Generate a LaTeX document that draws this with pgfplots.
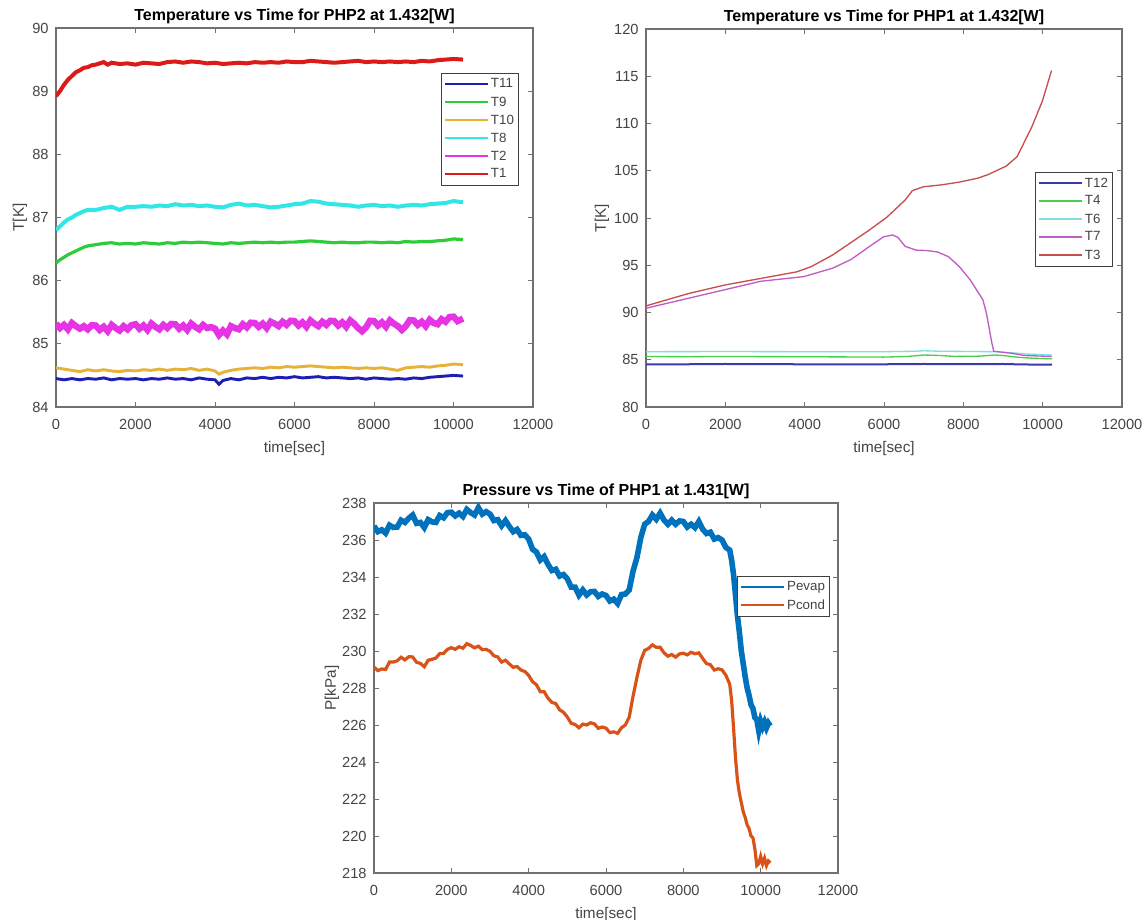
\documentclass[border=0pt]{standalone}
\usepackage{fontspec}
\setmainfont{Liberation Sans}
\usepackage{pgfplots}
\pgfplotsset{compat=1.18}
\definecolor{axgray}{HTML}{707070}
\definecolor{txtgray}{HTML}{444444}
\definecolor{cT11}{HTML}{1E1EB4}
\definecolor{cT9}{HTML}{2ECC3A}
\definecolor{cT10}{HTML}{E6B23A}
\definecolor{cT8}{HTML}{33E6E6}
\definecolor{cT2}{HTML}{E633E6}
\definecolor{cT1}{HTML}{DC1A1A}
\definecolor{cT12}{HTML}{3A3AA8}
\definecolor{cT4}{HTML}{4CCC4C}
\definecolor{cT6}{HTML}{80DEDE}
\definecolor{cT7}{HTML}{C05CC8}
\definecolor{cT3}{HTML}{C84E4E}
\definecolor{cPe}{HTML}{0072BD}
\definecolor{cPc}{HTML}{D95319}
\pgfplotsset{
  mstyle/.style={
    scale only axis,
    xmin=0, xmax=12000,
    xtick={0,2000,4000,6000,8000,10000,12000},
    tick align=inside,
    xtick pos=both, ytick pos=both,
    major tick length=3.5pt,
    every tick/.style={draw=axgray, line width=0.6pt},
    axis line style={draw=axgray, line width=0.9pt},
    ticklabel style={font=\fontsize{11}{13}\selectfont, text=txtgray},
    xticklabel style={yshift=-6pt},
    yticklabel style={xshift=-2pt},
    /pgf/number format/assume math mode=true,
    /pgf/number format/set thousands separator={},
    scaled x ticks=false, scaled y ticks=false,
    title style={font=\bfseries\fontsize{12}{14}\selectfont, at={(0.5,1)}, anchor=center, yshift=3pt},
    xlabel={time[sec]},
    xlabel style={font=\fontsize{11.5}{13}\selectfont, text=txtgray, anchor=center},
    ylabel style={font=\fontsize{11.5}{13}\selectfont, text=txtgray, anchor=center},
    legend style={draw=black!75, line width=0.6pt, fill=white,
      font=\fontsize{10}{11}\selectfont, text=txtgray,
      inner xsep=2pt, inner ysep=1.5pt, row sep=0pt,
      nodes={inner sep=1.5pt, minimum height=13.5pt}},
    legend image code/.code={\draw[#1, line width=1.5pt] (0pt,0pt) -- (32pt,0pt);},
    legend cell align=left,
  }
}
\begin{document}
\begin{tikzpicture}
\useasboundingbox (0,0) rectangle (859.5pt,690pt);
% ---------------- top left ----------------
\begin{axis}[mstyle, at={(42pt,384.75pt)}, anchor=south west,
  width=357.75pt, height=284.25pt,
  ymin=84, ymax=90, ytick={84,85,86,87,88,89,90},
  title={Temperature vs Time for PHP2 at 1.432[W]},
  ylabel={T[K]},
  xlabel style={at={(0.5,-0.11)}},
  ylabel style={at={(-0.0755,0.5)}},
  legend style={at={(1,1)}, anchor=north east, xshift=-10.5pt, yshift=-33.75pt}]
\addplot[cT11, line width=2.2pt] coordinates {
(0,84.45)(200,84.43)(400,84.45)(600,84.43)(800,84.45)(1000,84.44)(1200,84.46)(1400,84.43)(1600,84.45)(1800,84.44)
(2000,84.45)(2200,84.43)(2400,84.45)(2600,84.44)(2800,84.46)(3000,84.44)(3200,84.45)(3400,84.43)(3600,84.46)(3800,84.44)
(4000,84.43)(4100,84.36)(4200,84.42)(4400,84.45)(4600,84.43)(4800,84.46)(5000,84.45)(5200,84.47)(5400,84.45)(5600,84.47)
(5800,84.46)(6000,84.48)(6200,84.46)(6400,84.47)(6600,84.48)(6800,84.46)(7000,84.47)(7200,84.46)(7400,84.45)(7600,84.46)
(7800,84.44)(8000,84.46)(8200,84.45)(8400,84.44)(8600,84.45)(8800,84.44)(9000,84.46)(9200,84.45)(9400,84.47)(9600,84.48)
(9800,84.49)(10000,84.5)(10240,84.49)};
\addlegendentry{T11}
\addplot[cT9, line width=2.4pt] coordinates {
(0,86.28)(100,86.33)(200,86.37)(300,86.41)(400,86.44)(500,86.47)(600,86.5)(700,86.53)(800,86.55)(1000,86.57)
(1200,86.59)(1400,86.6)(1600,86.58)(1800,86.59)(2000,86.58)(2200,86.6)(2400,86.59)(2600,86.58)(2800,86.6)(3000,86.59)
(3200,86.61)(3400,86.6)(3600,86.61)(3800,86.6)(4000,86.59)(4200,86.58)(4400,86.6)(4600,86.59)(4800,86.6)(5000,86.61)
(5200,86.6)(5400,86.61)(5600,86.6)(5800,86.61)(6000,86.61)(6200,86.62)(6400,86.63)(6600,86.62)(6800,86.61)(7000,86.6)
(7200,86.61)(7400,86.6)(7600,86.6)(7800,86.61)(8000,86.61)(8200,86.6)(8400,86.61)(8600,86.6)(8800,86.62)(9000,86.61)
(9200,86.62)(9400,86.62)(9600,86.63)(9800,86.64)(10000,86.66)(10240,86.65)};
\addlegendentry{T9}
\addplot[cT10, line width=2.2pt] coordinates {
(0,84.62)(200,84.6)(400,84.58)(600,84.56)(800,84.59)(1000,84.57)(1200,84.59)(1400,84.57)(1600,84.56)(1800,84.58)
(2000,84.57)(2200,84.59)(2400,84.58)(2600,84.6)(2800,84.58)(3000,84.6)(3200,84.59)(3400,84.61)(3600,84.58)(3800,84.6)
(4000,84.57)(4100,84.52)(4200,84.55)(4400,84.58)(4600,84.6)(4800,84.61)(5000,84.62)(5200,84.61)(5400,84.63)(5600,84.62)
(5800,84.64)(6000,84.63)(6200,84.64)(6400,84.65)(6600,84.64)(6800,84.63)(7000,84.62)(7200,84.63)(7400,84.62)(7600,84.61)
(7800,84.62)(8000,84.61)(8200,84.62)(8400,84.6)(8600,84.58)(8800,84.62)(9000,84.63)(9200,84.64)(9400,84.63)(9600,84.65)
(9800,84.66)(10000,84.68)(10240,84.67)};
\addlegendentry{T10}
\addplot[cT8, line width=3pt] coordinates {
(0,86.8)(100,86.86)(200,86.92)(300,86.97)(400,87.0)(500,87.04)(600,87.07)(700,87.1)(800,87.12)(1000,87.12)
(1200,87.15)(1400,87.17)(1600,87.12)(1800,87.17)(2000,87.17)(2200,87.18)(2400,87.17)(2600,87.19)(2800,87.18)(3000,87.21)
(3200,87.19)(3400,87.2)(3600,87.18)(3800,87.19)(4000,87.17)(4200,87.16)(4400,87.2)(4600,87.22)(4800,87.19)(5000,87.2)
(5200,87.18)(5400,87.16)(5600,87.17)(5800,87.19)(6000,87.21)(6200,87.22)(6400,87.26)(6600,87.25)(6800,87.22)(7000,87.21)
(7200,87.2)(7400,87.19)(7600,87.17)(7800,87.19)(8000,87.2)(8200,87.18)(8400,87.19)(8600,87.17)(8800,87.19)(9000,87.2)
(9200,87.19)(9400,87.21)(9600,87.22)(9800,87.23)(10000,87.26)(10240,87.24)};
\addlegendentry{T8}
\addplot[cT2, line width=4.8pt] coordinates {
(0,85.32)(100,85.25)(200,85.3)(300,85.23)(400,85.33)(500,85.28)(600,85.24)(700,85.28)(800,85.23)(900,85.295)
(1000,85.29)(1100,85.22)(1200,85.27)(1300,85.2)(1400,85.3)(1500,85.25)(1600,85.21)(1700,85.28)(1800,85.23)(1900,85.295)
(2000,85.31)(2100,85.24)(2200,85.29)(2300,85.22)(2400,85.32)(2500,85.27)(2600,85.23)(2700,85.3)(2800,85.25)(2900,85.315)
(3000,85.31)(3100,85.24)(3200,85.29)(3300,85.22)(3400,85.32)(3500,85.27)(3600,85.23)(3700,85.3)(3800,85.25)(3900,85.265)
(4000,85.24)(4100,85.14)(4200,85.21)(4300,85.15)(4400,85.28)(4500,85.25)(4600,85.23)(4700,85.31)(4800,85.26)(4900,85.335)
(5000,85.33)(5100,85.27)(5200,85.32)(5300,85.25)(5400,85.35)(5500,85.32)(5600,85.28)(5700,85.35)(5800,85.3)(5900,85.365)
(6000,85.36)(6100,85.29)(6200,85.34)(6300,85.27)(6400,85.37)(6500,85.32)(6600,85.28)(6700,85.35)(6800,85.3)(6900,85.365)
(7000,85.36)(7100,85.29)(7200,85.34)(7300,85.27)(7400,85.37)(7500,85.32)(7600,85.25)(7700,85.2)(7800,85.26)(7900,85.365)
(8000,85.36)(8100,85.29)(8200,85.34)(8300,85.27)(8400,85.37)(8500,85.32)(8600,85.28)(8700,85.22)(8800,85.28)(8900,85.375)
(9000,85.37)(9100,85.3)(9200,85.35)(9300,85.28)(9400,85.38)(9500,85.33)(9600,85.31)(9700,85.39)(9800,85.35)(9900,85.425)
(10000,85.43)(10100,85.36)(10240,85.4)};
\addlegendentry{T2}
\addplot[cT1, line width=3pt] coordinates {
(0,88.92)(100,89.0)(200,89.1)(300,89.18)(400,89.24)(500,89.3)(600,89.33)(700,89.37)(800,89.38)(900,89.41)
(1000,89.42)(1100,89.44)(1200,89.46)(1300,89.42)(1400,89.45)(1600,89.43)(1800,89.44)(2000,89.42)(2200,89.45)(2400,89.44)
(2600,89.43)(2800,89.46)(3000,89.47)(3200,89.45)(3400,89.47)(3600,89.46)(3800,89.44)(4000,89.45)(4200,89.43)(4400,89.44)
(4600,89.45)(4800,89.44)(5000,89.46)(5200,89.45)(5400,89.46)(5600,89.45)(5800,89.47)(6000,89.46)(6200,89.46)(6400,89.48)
(6600,89.47)(6800,89.46)(7000,89.45)(7200,89.46)(7400,89.47)(7600,89.48)(7800,89.46)(8000,89.47)(8200,89.46)(8400,89.47)
(8600,89.46)(8800,89.47)(9000,89.46)(9200,89.48)(9400,89.47)(9600,89.49)(9800,89.5)(10000,89.51)(10240,89.5)};
\addlegendentry{T1}
\end{axis}
% ---------------- top right ----------------
\begin{axis}[mstyle, at={(484.5pt,384.75pt)}, anchor=south west,
  width=357pt, height=283.5pt,
  ymin=80, ymax=120, ytick={80,85,...,120},
  title={Temperature vs Time for PHP1 at 1.432[W]},
  ylabel={T[K]},
  xlabel style={at={(0.5,-0.11)}},
  ylabel style={at={(-0.0924,0.5)}},
  legend style={at={(1,1)}, anchor=north east, xshift=-6.75pt, yshift=-107.25pt}]
\addplot[cT12, line width=1.5pt] coordinates {
(0,84.5)(1000,84.52)(2000,84.55)(3000,84.53)(4000,84.52)(5000,84.5)(6000,84.52)(7000,84.55)(8000,84.53)(9000,84.55)(9500,84.5)(10240,84.48)};
\addlegendentry{T12}
\addplot[cT4, line width=1pt] coordinates {
(0,85.35)(1000,85.32)(2000,85.35)(3000,85.33)(4000,85.32)(5000,85.3)(6000,85.28)(6600,85.35)(7000,85.5)(7400,85.45)
(7800,85.35)(8400,85.38)(8800,85.5)(9000,85.45)(9400,85.25)(9800,85.15)(10240,85.1)};
\addlegendentry{T4}
\addplot[cT6, line width=1pt] coordinates {
(0,85.85)(2000,85.87)(4000,85.85)(6000,85.85)(6800,85.9)(7000,85.95)(7400,85.9)(8000,85.88)(8800,85.85)(9200,85.75)(9600,85.6)(10240,85.5)};
\addlegendentry{T6}
\addplot[cT7, line width=1pt] coordinates {
(0,90.45)(1977,92.4)(2888,93.3)(3982,93.8)(4711,94.7)(5166,95.6)(5622,96.95)(5986,98.0)(6214,98.2)(6350,97.95)
(6533,97.0)(6806,96.6)(7080,96.55)(7353,96.4)(7626,95.9)(7900,94.85)(8173,93.45)(8492,91.35)(8583,89.9)(8720,86.75)
(8765,85.9)(9175,85.7)(9540,85.45)(10223,85.35)};
\addlegendentry{T7}
\addplot[cT3, line width=1pt] coordinates {
(0,90.7)(1066,92.0)(1977,92.9)(2888,93.6)(3800,94.3)(4164,94.85)(4711,96.1)(5622,98.7)(6077,100.1)(6533,101.9)
(6716,102.9)(6989,103.3)(7444,103.5)(7900,103.8)(8355,104.2)(8629,104.6)(9084,105.5)(9357,106.5)(9722,109.6)(9995,112.4)(10223,115.6)};
\addlegendentry{T3}
\end{axis}
% ---------------- bottom ----------------
\begin{axis}[mstyle, at={(280.5pt,35.25pt)}, anchor=south west,
  width=348pt, height=277.5pt,
  ymin=218, ymax=238, ytick={218,220,...,238},
  title={Pressure vs Time of PHP1 at 1.431[W]},
  ylabel={P[kPa]},
  xlabel style={at={(0.5,-0.112)}},
  ylabel style={at={(-0.0905,0.5)}},
  legend style={at={(1,1)}, anchor=north east, xshift=-6pt, yshift=-54.75pt}]
\addplot[cPe, line width=4.2pt] coordinates {
(0,236.75)(100,236.45)(200,236.55)(300,236.37)(400,236.8)(500,236.68)(600,236.7)(700,237.07)(800,236.95)(900,237.18)
(1000,237.35)(1100,236.9)(1200,236.95)(1300,236.67)(1400,237.1)(1500,236.98)(1600,236.95)(1700,237.32)(1800,237.2)(1900,237.48)
(2000,237.5)(2100,237.3)(2200,237.45)(2300,237.27)(2400,237.65)(2500,237.48)(2600,237.35)(2700,237.75)(2800,237.4)(2900,237.53)
(3000,237.4)(3100,237.05)(3200,237.1)(3300,236.77)(3400,237.05)(3500,236.73)(3600,236.45)(3700,236.57)(3800,236.25)(3900,236.28)
(4000,236.05)(4100,235.5)(4200,235.35)(4300,234.92)(4400,235.1)(4500,234.68)(4600,234.35)(4700,234.42)(4800,234.05)(4900,234.13)
(5000,233.9)(5100,233.45)(5200,233.45)(5300,233.02)(5400,233.3)(5500,233.03)(5600,233.2)(5700,233.22)(5800,232.95)(5900,233.08)
(6000,233.0)(6100,232.7)(6200,232.8)(6300,232.57)(6400,233.05)(6500,233.08)(6600,233.3)(6700,234.32)(6800,235.05)(6900,236.13)
(7000,236.85)(7100,237.0)(7200,237.35)(7300,237.12)(7400,237.45)(7500,237.08)(7600,236.85)(7700,237.07)(7800,236.85)(7900,237.03)
(8000,237.0)(8100,236.7)(8200,236.85)(8300,236.67)(8400,237.0)(8500,236.58)(8600,236.35)(8700,236.42)(8800,236.05)(8900,236.13)
(9000,236.0)(9100,235.6)(9200,235.45)(9250,234.9)(9300,234.1)(9350,233.0)(9400,231.9)(9450,231.0)(9500,230.0)(9550,229.3)
(9600,228.6)(9650,228.0)(9700,227.6)(9750,227.1)(9800,226.9)(9850,226.4)(9900,226.3)(9950,225.7)(10000,226.2)(10050,225.9)
(10100,226.15)(10150,225.85)(10200,226.1)(10250,225.95)};
\addlegendentry{Pevap}
\addplot[cPc, line width=2.4pt] coordinates {
(0,229.13)(100,228.94)(200,229.03)(300,229.0)(400,229.4)(500,229.4)(600,229.47)(700,229.66)(800,229.52)(900,229.69)
(1000,229.68)(1100,229.39)(1200,229.33)(1300,229.15)(1400,229.5)(1500,229.55)(1600,229.62)(1700,229.86)(1800,229.87)(1900,230.09)
(2000,230.18)(2100,230.09)(2200,230.23)(2300,230.15)(2400,230.4)(2500,230.3)(2600,230.17)(2700,230.26)(2800,230.07)(2900,230.09)
(3000,229.98)(3100,229.74)(3200,229.68)(3300,229.4)(3400,229.5)(3500,229.3)(3600,229.12)(3700,229.16)(3800,228.97)(3900,228.89)
(4000,228.68)(4100,228.34)(4200,228.18)(4300,227.8)(4400,227.8)(4500,227.45)(4600,227.22)(4700,227.16)(4800,226.82)(4900,226.69)
(5000,226.43)(5100,226.09)(5200,226.03)(5300,225.85)(5400,226.05)(5500,226.0)(5600,226.12)(5700,226.06)(5800,225.82)(5900,225.89)
(6000,225.83)(6100,225.59)(6200,225.63)(6300,225.55)(6400,225.85)(6500,226.0)(6600,226.42)(6700,227.56)(6800,228.57)(6900,229.49)
(7000,230.03)(7100,230.14)(7200,230.33)(7300,230.2)(7400,230.2)(7500,229.9)(7600,229.72)(7700,229.81)(7800,229.67)(7900,229.84)
(8000,229.88)(8100,229.79)(8200,229.93)(8300,229.85)(8400,229.9)(8500,229.6)(8600,229.32)(8700,229.26)(8800,228.97)(8900,229.04)
(9000,228.98)(9100,228.69)(9200,228.2)(9250,227.3)(9300,225.8)(9350,224.2)(9400,223.0)(9450,222.3)(9500,221.8)(9550,221.3)
(9600,221.0)(9650,220.6)(9700,220.4)(9750,220.0)(9800,219.9)(9850,219.3)(9900,218.4)(9950,218.5)(10000,218.9)(10050,218.5)
(10100,218.8)(10150,218.4)(10200,218.65)(10250,218.55)};
\addlegendentry{Pcond}
\end{axis}
\end{tikzpicture}
\end{document}
